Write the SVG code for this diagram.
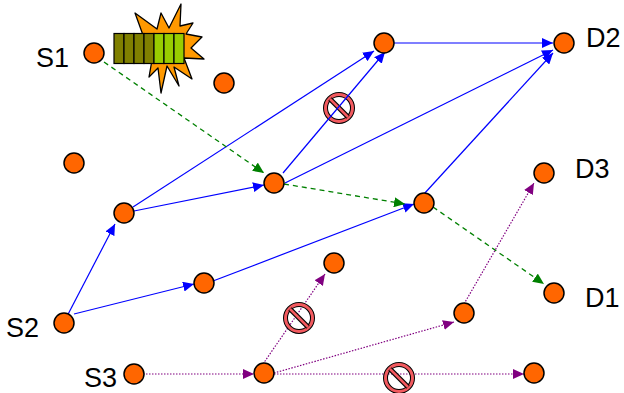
<svg xmlns="http://www.w3.org/2000/svg" width="624" height="393" viewBox="0 0 624 393">
<style>
.n{fill:#ff6600;stroke:#000;stroke-width:1.5}
.b{fill:none;stroke:#0000ff;stroke-width:1.2;marker-end:url(#mb)}
.g{fill:none;stroke:#008000;stroke-width:1.3;stroke-dasharray:5 4;marker-end:url(#mg)}
.p{fill:none;stroke:#800080;stroke-width:1.2;stroke-dasharray:1.5 1.5;marker-end:url(#mp)}
.t{font-family:"Liberation Sans",Arial,sans-serif;font-size:27px;fill:#000}
.ban circle{fill:none;stroke:#000;stroke-width:5}
.ban circle.r{stroke:#f25a5f;stroke-width:3}
.ban line.k{stroke:#000;stroke-width:5}
.ban line.r{stroke:#f25a5f;stroke-width:2.5}
.o{fill:#808000;stroke:#000;stroke-width:1.2}
.l{fill:#99cc00;stroke:#000;stroke-width:1.2}
</style>
<defs>
<marker id="mb" markerUnits="userSpaceOnUse" markerWidth="12" markerHeight="10" refX="11" refY="5" orient="auto"><path d="M0 0L11 5L0 10Z" fill="#0000ff"/></marker>
<marker id="mg" markerUnits="userSpaceOnUse" markerWidth="12" markerHeight="10" refX="11" refY="5" orient="auto"><path d="M0 0L11 5L0 10Z" fill="#008000"/></marker>
<marker id="mp" markerUnits="userSpaceOnUse" markerWidth="12" markerHeight="10" refX="11" refY="5" orient="auto"><path d="M0 0L11 5L0 10Z" fill="#800080"/></marker>
</defs>
<g id="burst"><path d="M135 13L157 29L161 13L169 28L181 4L180 26L193 23L186 34L202 37L191 48L204 59L184 58L192 79L174 67L179 86L167 66L161 93L158 68L149 77L152 60Z" fill="#ff9900" stroke="#000" stroke-width="1.3" stroke-linejoin="round"/></g>
<g id="queue">
<rect class="o" x="114" y="33.5" width="10" height="30"/><rect class="o" x="124" y="33.5" width="10" height="30"/><rect class="o" x="134" y="33.5" width="10" height="30"/><rect class="o" x="144" y="33.5" width="10" height="30"/><rect class="l" x="154" y="33.5" width="10" height="30"/><rect class="l" x="164" y="33.5" width="10" height="30"/><rect class="l" x="174" y="33.5" width="10" height="30"/>
</g>
<g id="block1" class="ban"><circle cx="339" cy="108" r="13.5"/><circle class="r" cx="339" cy="108" r="13.5"/><line class="k" x1="330" y1="99" x2="348" y2="117"/><line class="r" x1="330" y1="99" x2="348" y2="117"/></g>
<g id="connectors">
<path class="b" d="M64 322L115 224"/>
<path class="b" d="M74 314L194 284"/>
<path class="b" d="M133 207L374 51"/>
<path class="b" d="M134 211L264 185"/>
<path class="b" d="M283 173L385 52"/>
<path class="b" d="M285 183L553 50"/>
<path class="b" d="M213 281L414 204"/>
<path class="b" d="M424 194L553 53"/>
<path class="b" d="M394 43L553 43"/>
<path class="g" d="M104 62L264 173"/>
<path class="g" d="M284 184L405 204"/>
<path class="g" d="M433 207L544 284"/>
<path class="p" d="M143 374L254 374"/>
<path class="p" d="M263 364L325 274"/>
<path class="p" d="M274 373L454 322"/>
<path class="p" d="M274 374L524 374"/>
<path class="p" d="M464 304L534 183"/>
</g>
<g id="block2" class="ban"><circle cx="299" cy="318" r="13.5"/><circle class="r" cx="299" cy="318" r="13.5"/><line class="k" x1="290" y1="309" x2="308" y2="327"/><line class="r" x1="290" y1="309" x2="308" y2="327"/></g>
<g id="block3" class="ban"><circle cx="399" cy="378" r="13.5"/><circle class="r" cx="399" cy="378" r="13.5"/><line class="k" x1="390" y1="369" x2="408" y2="387"/><line class="r" x1="390" y1="369" x2="408" y2="387"/></g>
<g id="s1"><circle class="n" cx="94" cy="53" r="10"/><text class="t" x="36" y="67">S1</text></g>
<g id="n1"><circle class="n" cx="224" cy="83" r="10"/></g>
<g id="n2"><circle class="n" cx="74" cy="163" r="10"/></g>
<g id="n3"><circle class="n" cx="124" cy="213" r="10"/></g>
<g id="n4"><circle class="n" cx="274" cy="183" r="10"/></g>
<g id="n5"><circle class="n" cx="384" cy="43" r="10"/></g>
<g id="d2"><circle class="n" cx="564" cy="43" r="10"/><text class="t" x="586" y="47">D2</text></g>
<g id="n6"><circle class="n" cx="424" cy="203" r="10"/></g>
<g id="d3"><circle class="n" cx="544" cy="173" r="10"/><text class="t" x="575" y="178">D3</text></g>
<g id="d1"><circle class="n" cx="554" cy="293" r="10"/><text class="t" x="585" y="307">D1</text></g>
<g id="n7"><circle class="n" cx="204" cy="283" r="10"/></g>
<g id="n8"><circle class="n" cx="334" cy="263" r="10"/></g>
<g id="s2"><circle class="n" cx="64" cy="323" r="10"/><text class="t" x="6" y="337">S2</text></g>
<g id="n9"><circle class="n" cx="464" cy="313" r="10"/></g>
<g id="s3"><circle class="n" cx="134" cy="374" r="10"/><text class="t" x="84" y="387">S3</text></g>
<g id="n10"><circle class="n" cx="264" cy="373" r="10"/></g>
<g id="n11"><circle class="n" cx="534" cy="373" r="10"/></g>
</svg>
